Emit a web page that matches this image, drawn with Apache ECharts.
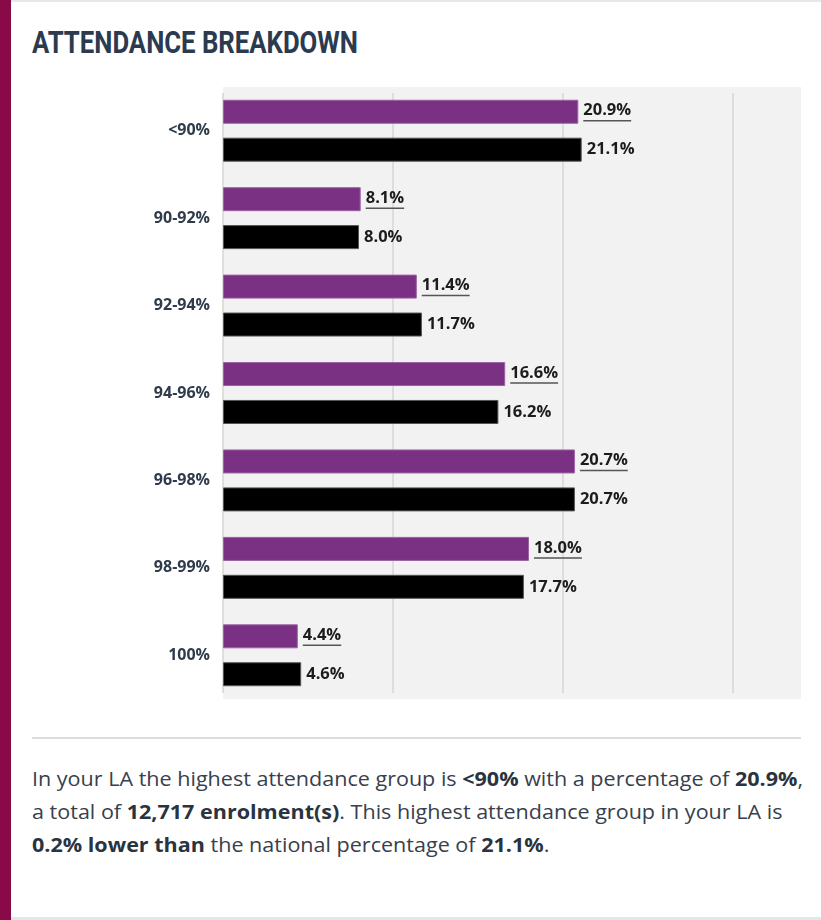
<!DOCTYPE html>
<html>
<head>
<meta charset="utf-8">
<script src="https://cdn.jsdelivr.net/npm/echarts@6/dist/echarts.min.js"></script>
<style>
  html, body { margin:0; padding:0; background:#fff; }
  body { width:821px; height:920px; position:relative; overflow:hidden; font-family:"Open Sans", sans-serif; }
  #topline { position:absolute; left:0; top:0; width:821px; height:2px; background:#e6e8eb; }
  #leftbar { position:absolute; left:0; top:0; width:11px; height:920px; background:#880a46; }
  #bottomline { position:absolute; left:11px; top:917px; width:810px; height:3px; background:#e3e6ea; }
  #title { position:absolute; left:32px; top:24px; font-family:Roboto, "Open Sans", sans-serif; font-weight:bold; font-size:32px; line-height:36px; color:#2b3a4f; white-space:nowrap; transform-origin:0 0; letter-spacing:0px; }
  #chart { position:absolute; left:0; top:0; width:821px; height:730px; }
  #divider { position:absolute; left:32px; top:737px; width:769px; height:2px; background:#dcdcdc; }
  #para { position:absolute; left:32px; top:762px; font-size:20px; line-height:33px; color:#37404c; white-space:nowrap; transform-origin:0 0; }
  #para b { color:#2a3340; font-weight:bold; }
</style>
</head>
<body>
<div id="topline"></div>
<div id="leftbar"></div>
<div id="title">ATTENDANCE BREAKDOWN</div>
<div id="chart"></div>
<div id="divider"></div>
<div id="para"><span id="l1">In your LA the highest attendance group is <b>&lt;90%</b> with a percentage of <b>20.9%</b>,</span><br><span id="l2">a total of <b>12,717 enrolment(s)</b>. This highest attendance group in your LA is</span><br><span id="l3"><b>0.2% lower than</b> the national percentage of <b>21.1%</b>.</span></div>
<div id="bottomline"></div>
<script>
const categories = ['<90%', '90-92%', '92-94%', '94-96%', '96-98%', '98-99%', '100%'];
const laValues = [20.9, 8.1, 11.4, 16.6, 20.7, 18.0, 4.4];
const nationalValues = [21.1, 8.0, 11.7, 16.2, 20.7, 17.7, 4.6];
const axisMax = 34;
const gridInterval = 10;

// fit title and paragraph widths
(function fit() {
  const t = document.getElementById('title');
  const tw = t.getBoundingClientRect().width;
  t.style.transform = 'scaleX(' + (326 / tw) + ')';
  const p = document.getElementById('para');
  const l1 = document.getElementById('l1').getBoundingClientRect().width;
  p.style.transform = 'scaleX(' + (771 / l1) + ')';
})();

const FONT = '"Open Sans", sans-serif';
const chart = echarts.init(document.getElementById('chart'));
const fmt = v => v.toFixed(1) + '%';
// grid lines at 0,10,20,30; the closing line at the axis max is hidden
const lineColors = ['#d6d6d6', '#d6d6d6', '#d6d6d6', '#d6d6d6', 'rgba(0,0,0,0)'];
chart.setOption({
  animation: false,
  grid: [
    { left: 223, top: 87, width: 578, height: 612, show: true, backgroundColor: '#f2f2f2', borderWidth: 0 },
    { left: 223, top: 93, width: 578, height: 600, show: false }
  ],
  xAxis: [
    { type: 'value', gridIndex: 0, min: 0, max: axisMax, interval: gridInterval, splitLine: { show: false }, axisLabel: { show: false }, axisLine: { show: false }, axisTick: { show: false } },
    { type: 'value', gridIndex: 1, min: 0, max: axisMax, interval: gridInterval, splitLine: { show: true, lineStyle: { color: lineColors, width: 1.5 } }, axisLabel: { show: false }, axisLine: { show: false }, axisTick: { show: false } }
  ],
  yAxis: [
    { type: 'category', gridIndex: 0, data: categories, inverse: true, axisLine: { show: false }, axisTick: { show: false },
      axisLabel: { margin: 13, fontFamily: FONT, fontWeight: 'bold', fontSize: 16, color: '#2f3b4b' } },
    { type: 'value', gridIndex: 1, min: 0, max: 1, show: false }
  ],
  series: [
    { name: 'LA', type: 'bar', xAxisIndex: 0, yAxisIndex: 0, data: laValues, barWidth: 24, barGap: '58%',
      itemStyle: { color: '#7a3184', borderColor: '#9a62a3', borderWidth: 1 },
      label: { show: true, position: 'right', distance: 5,
        formatter: p => '{t|' + fmt(p.value) + '}\n{u| }',
        rich: { t: { fontFamily: FONT, fontWeight: 'bold', fontSize: 16.5, color: '#1c1c1c', lineHeight: 18 },
                u: { width: '100%', height: 1.5, fontSize: 1, lineHeight: 2, backgroundColor: '#555' } } } },
    { name: 'National', type: 'bar', xAxisIndex: 0, yAxisIndex: 0, data: nationalValues, barWidth: 24,
      itemStyle: { color: '#000', borderColor: '#555', borderWidth: 1 },
      label: { show: true, position: 'right', distance: 5, formatter: p => fmt(p.value),
        fontFamily: FONT, fontWeight: 'bold', fontSize: 16.5, color: '#1c1c1c' } }
  ]
});
</script>
</body>
</html>
